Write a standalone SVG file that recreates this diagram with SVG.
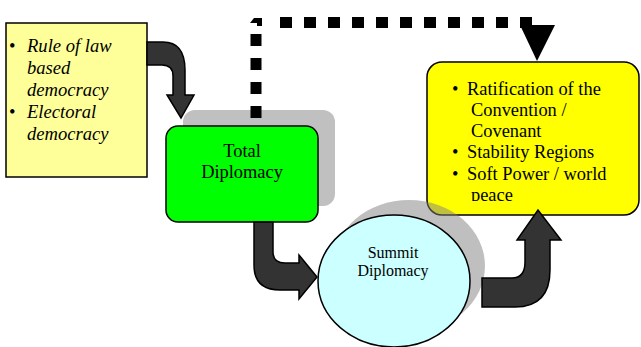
<svg xmlns="http://www.w3.org/2000/svg" width="641" height="347" viewBox="0 0 641 347">
<style>
  .t { font-family: "Liberation Serif", "Times New Roman", serif; fill: #000; }
  .it { font-style: italic; font-size: 18.6px; }
  .r18 { font-size: 18.4px; }
  .box { stroke: #000; stroke-width: 1.5; }
  .shadow { fill: #c0c0c0; }
  .arrow { fill: #333333; stroke: #000; stroke-width: 1.5; stroke-linejoin: miter; }
  .dash { fill: none; stroke: #000; stroke-width: 11; stroke-dasharray: 12 12; }
</style>
<defs>
  <clipPath id="clipR"><rect x="427" y="62" width="213" height="139"/></clipPath>
</defs>
<rect width="641" height="347" fill="#fff"/>

<g id="node-left">
  <rect class="box" x="6" y="23" width="141" height="154" fill="#ffff99"/>
  <text class="t it"><tspan x="9" y="52" font-style="normal">•</tspan><tspan x="27" y="52">Rule of law</tspan><tspan x="27" y="74">based</tspan><tspan x="27" y="96">democracy</tspan><tspan x="9" y="118" font-style="normal">•</tspan><tspan x="27" y="118">Electoral</tspan><tspan x="27" y="140">democracy</tspan></text>
</g>

<g id="node-total">
  <rect class="shadow" x="183" y="110" width="152" height="96" rx="12"/>
  <rect class="box" x="166" y="126" width="152" height="96" rx="12" fill="#00ff00"/>
  <text class="t r18" text-anchor="middle"><tspan x="242" y="157">Total</tspan><tspan x="242" y="178">Diplomacy</tspan></text>
</g>

<g id="node-right">
  <rect class="box" x="427" y="62" width="212" height="153" rx="15" fill="#ffff00"/>
  <g clip-path="url(#clipR)">
    <text class="t r18"><tspan x="452" y="95">•</tspan><tspan x="467" y="95">Ratification of the</tspan><tspan x="471" y="116">Convention /</tspan><tspan x="471" y="137">Covenant</tspan><tspan x="452" y="158">•</tspan><tspan x="467" y="158">Stability Regions</tspan><tspan x="452" y="180">•</tspan><tspan x="467" y="180">Soft Power / world</tspan><tspan x="471" y="201">peace</tspan></text>
  </g>
</g>

<g id="node-summit">
  <ellipse cx="409" cy="266" rx="76" ry="66" fill="#808080" fill-opacity="0.5"/>
  <ellipse class="box" cx="394" cy="281" rx="76" ry="66" fill="#ccffff"/>
  <text class="t" font-size="16" text-anchor="middle"><tspan x="393" y="258">Summit</tspan><tspan x="393" y="276">Diplomacy</tspan></text>
</g>

<g id="connectors">
  <path class="arrow" d="M147,42 L163,42 Q185,42 185,70 L185,95 L194,95 L181,118 L167,95 L173,95 L173,76 Q173,65 162,65 L147,65 Z"/>
  <path class="arrow" d="M254,222 L273,222 L273,252 Q273,263 285,263 L299,263 L299,255 L317,277 L299,299 L299,290 L280,290 Q254,290 254,265 Z"/>
  <path class="arrow" d="M482,278 L512,278 Q525,278 525,262 L525,240 L517,240 L538,210 L561,240 L550,240 L550,270 Q550,307 515,307 L482,307 Z"/>
  <path class="dash" d="M256,118 L256,23"/>
  <path class="dash" d="M280,22.5 L532,22.5"/>
  <path d="M250,23 L254,18 L262,18 L262,26 L257,26 L257,23 Z" fill="#000"/>
  <polygon points="520,25 555,25 537,61" fill="#000"/>
</g>
</svg>
